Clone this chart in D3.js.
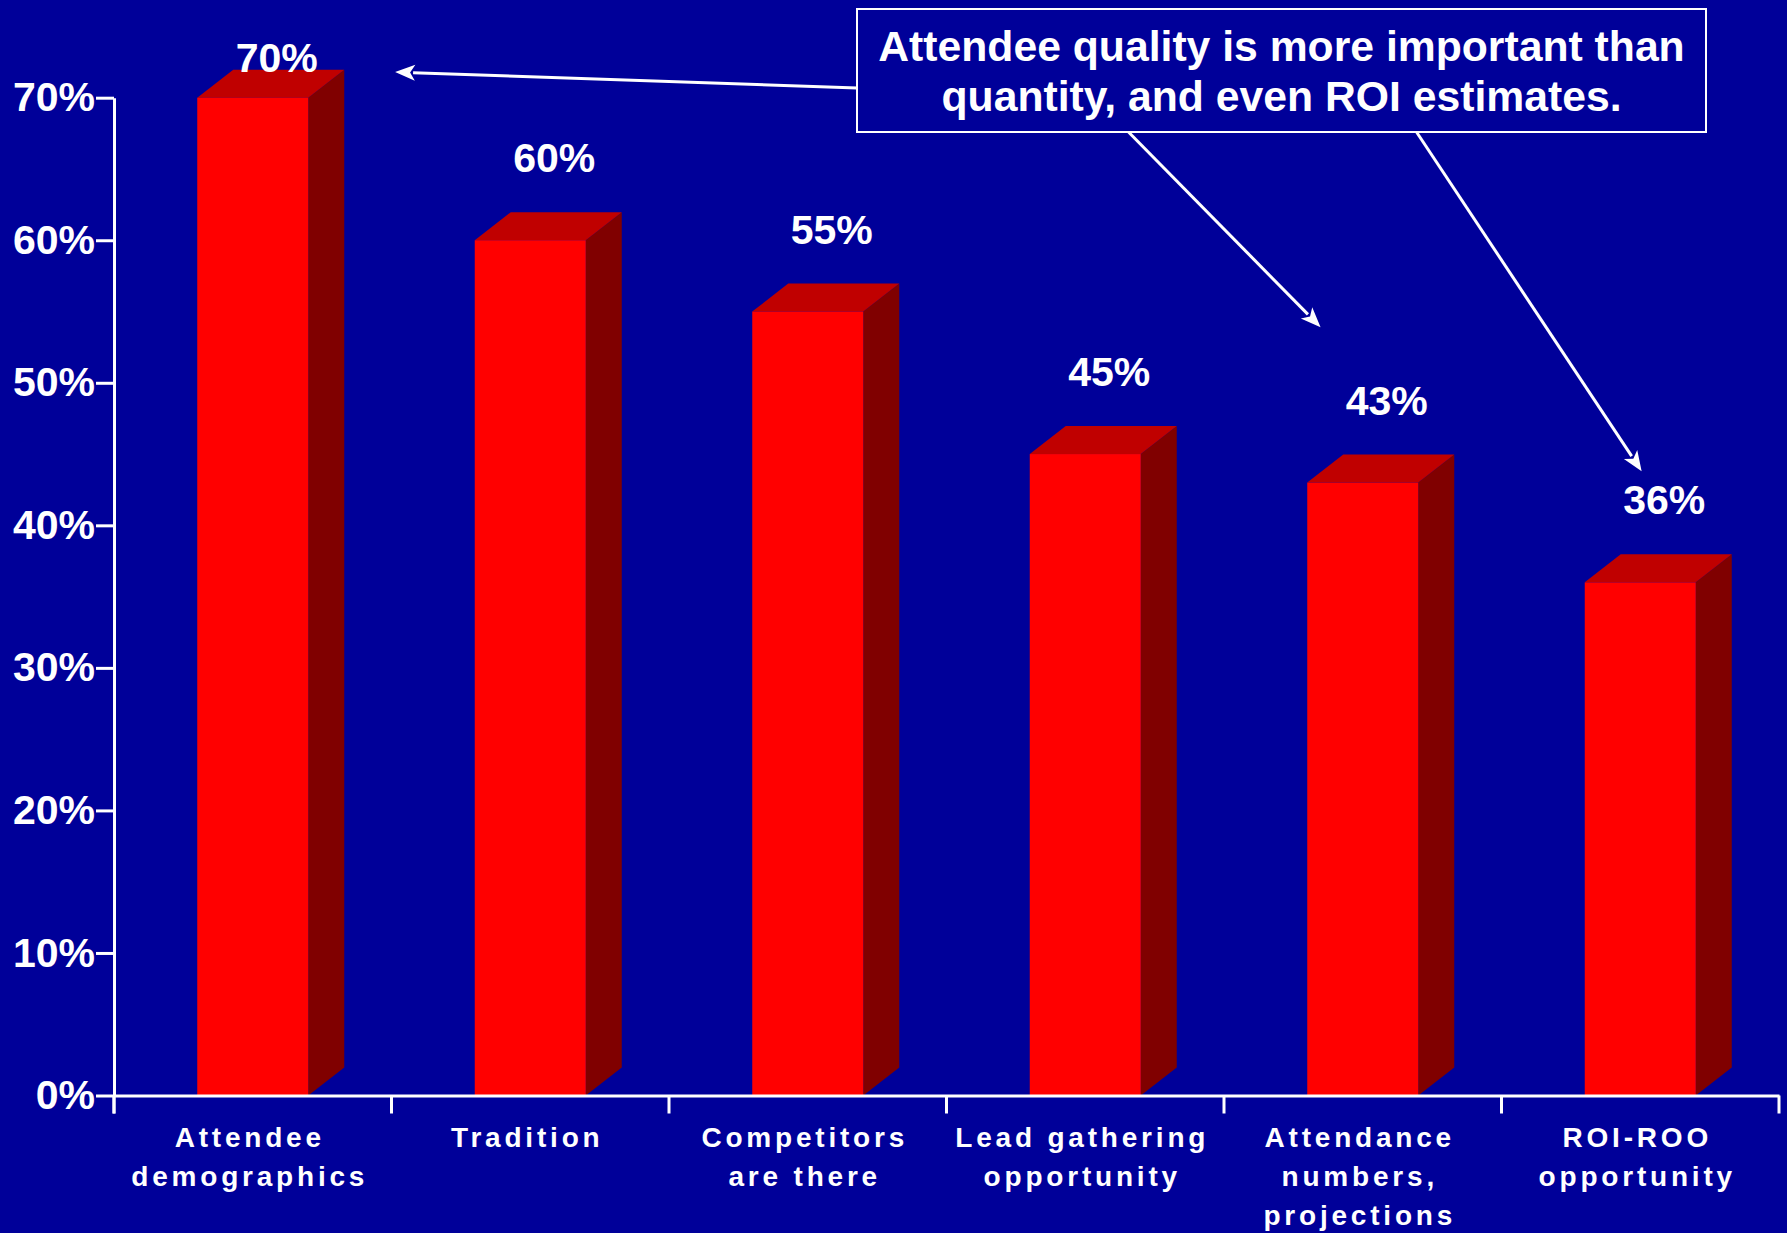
<!DOCTYPE html>
<html><head><meta charset="utf-8">
<script src="https://cdn.jsdelivr.net/npm/d3@7"></script>
<style>
html,body{margin:0;padding:0;background:#000099;}
svg{display:block}
text{font-family:"Liberation Sans",Arial,Helvetica,sans-serif;font-weight:bold;fill:#ffffff}
</style>
</head><body>
<svg id="c" width="1787" height="1233"></svg>
<script>
// ---- data ----
const categories = ["Attendee demographics","Tradition","Competitors are there","Lead gathering opportunity","Attendance numbers, projections","ROI-ROO opportunity"];
const categoryLines = [["Attendee","demographics"],["Tradition"],["Competitors","are there"],["Lead gathering","opportunity"],["Attendance","numbers,","projections"],["ROI-ROO","opportunity"]];
const values = [0.70, 0.60, 0.55, 0.45, 0.43, 0.36];
const valueLabels = ["70%","60%","55%","45%","43%","36%"];
const yTicks = [0, 0.1, 0.2, 0.3, 0.4, 0.5, 0.6, 0.7];
const yTickLabels = ["0%","10%","20%","30%","40%","50%","60%","70%"];
const calloutLines = ["Attendee quality is more important than","quantity, and even ROI estimates."];
// arrow targets: category index, fraction across band, value level
const arrowTargets = [[0, 1.013, 0.718],[4, 0.348, 0.539],[5, 0.505, 0.438]];

// ---- layout ----
const W = 1787, H = 1233;
const plotLeft = 114, plotRight = 1779, plotTop = 97.7, plotBottom = 1095.5;
const depthX = 36, depthY = 28;
const svg = d3.select("#c");
svg.append("rect").attr("width", W).attr("height", H).attr("fill", "#000099");

const x = d3.scaleBand().domain(categories).range([plotLeft, plotRight]).paddingInner(0).paddingOuter(0);
const y = d3.scaleLinear().domain([0, 0.7]).range([plotBottom, plotTop]);
const bw = x.bandwidth() * 0.4;

// bars
const g = svg.append("g");
categories.forEach((c, i) => {
  const v = values[i];
  const x0 = x(c) + (x.bandwidth() - bw) / 2, x1 = x0 + bw;
  const yt = y(v), yb = y(0);
  g.append("path").attr("fill", "#800000")
    .attr("d", `M${x1},${yb}L${x1 + depthX},${yb - depthY}L${x1 + depthX},${yt - depthY}L${x1},${yt}Z`);
  g.append("path").attr("fill", "#C00000")
    .attr("d", `M${x0},${yt}L${x0 + depthX},${yt - depthY}L${x1 + depthX},${yt - depthY}L${x1},${yt}Z`);
  g.append("rect").attr("fill", "#FF0000").attr("x", x0).attr("y", yt).attr("width", bw).attr("height", yb - yt);
});

// value labels
svg.append("g").selectAll("text").data(values).join("text")
  .attr("x", (d, i) => x(categories[i]) + x.bandwidth() / 2 + 24)
  .attr("y", d => Math.max(y(d) - 68, 72.3))
  .attr("text-anchor", "middle").attr("font-size", 41)
  .text((d, i) => valueLabels[i]);

// y axis
const yAxis = d3.axisLeft(y).tickValues(yTicks).tickFormat((d, i) => yTickLabels[i])
  .tickSize(18).tickSizeOuter(0).tickPadding(1);
const ya = svg.append("g").attr("transform", `translate(${plotLeft},0)`).call(yAxis);
ya.selectAll("path,line").attr("stroke", "#fff").attr("stroke-width", 3);
ya.selectAll("text").attr("font-size", 41).attr("fill", "#fff")
  .style("font-family", '"Liberation Sans",Arial,sans-serif').style("font-weight", "bold");
svg.append("line").attr("x1", plotLeft).attr("x2", plotLeft).attr("y1", y(0)).attr("y2", y(0) + 18)
  .attr("stroke", "#fff").attr("stroke-width", 3);

// x axis
const xAxis = d3.axisBottom(x).tickSize(0).tickSizeOuter(0).tickFormat("");
const xa = svg.append("g").attr("transform", `translate(0,${y(0)})`).call(xAxis);
xa.select(".domain").attr("stroke", "#fff").attr("stroke-width", 3);
const bounds = categories.map(c => x(c)).concat([x(categories[categories.length - 1]) + x.bandwidth()]);
svg.append("g").selectAll("line").data(bounds).join("line")
  .attr("x1", d => d).attr("x2", d => d).attr("y1", y(0)).attr("y2", y(0) + 18)
  .attr("stroke", "#fff").attr("stroke-width", 3);

// category labels
categories.forEach((c, i) => {
  const cx = x(c) + x.bandwidth() / 2 - 3;
  const t = svg.append("text").attr("text-anchor", "middle").attr("font-size", 28)
    .attr("letter-spacing", 3.8).attr("x", cx).attr("y", 1146.5);
  categoryLines[i].forEach((ln, j) => {
    t.append("tspan").attr("x", cx).attr("y", 1146.5 + j * 39.3).text(ln);
  });
});

// callout box
const box = {x0: 857, y0: 9, x1: 1706, y1: 132};
svg.append("rect").attr("x", box.x0).attr("y", box.y0).attr("width", box.x1 - box.x0).attr("height", box.y1 - box.y0)
  .attr("fill", "#000099").attr("stroke", "#fff").attr("stroke-width", 2);
calloutLines.forEach((ln, j) => {
  svg.append("text").attr("x", (box.x0 + box.x1) / 2).attr("y", 61 + j * 50)
    .attr("text-anchor", "middle").attr("font-size", 42.7).text(ln);
});

// arrows
const starts = [[box.x0, 88], [1128.5, box.y1], [1416.5, box.y1]];
arrowTargets.forEach((t, i) => {
  const tx = x(categories[t[0]]) + t[1] * x.bandwidth();
  const ty = y(t[2]);
  const [sx, sy] = starts[i];
  const dx = tx - sx, dy = ty - sy, L = Math.hypot(dx, dy);
  const ux = dx / L, uy = dy / L;
  const hl = 20, hw = 8;
  const bx = tx - ux * hl, by = ty - uy * hl;
  svg.append("line").attr("x1", sx).attr("y1", sy).attr("x2", bx + ux * 2).attr("y2", by + uy * 2)
    .attr("stroke", "#fff").attr("stroke-width", 3);
  svg.append("path").attr("fill", "#fff")
    .attr("d", `M${tx},${ty}L${bx - uy * hw},${by + ux * hw}L${bx + ux * 5},${by + uy * 5}L${bx + uy * hw},${by - ux * hw}Z`);
});
</script>
</body></html>
